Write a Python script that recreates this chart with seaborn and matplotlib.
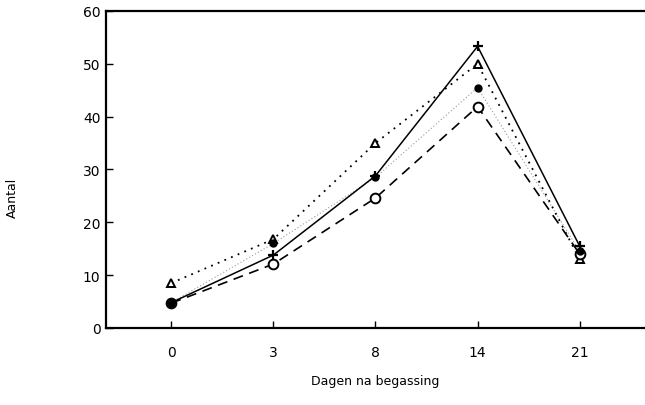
import matplotlib
matplotlib.use("Agg")
import matplotlib.pyplot as plt
import seaborn as sns
import numpy as np

days = ["0", "3", "8", "14", "21"]
plus_solid = [4.8, 13.8, 28.8, 53.3, 15.5]
tri_dotted = [8.5, 16.8, 35.0, 50.0, 13.0]
circ_dashed = [4.7, 12.1, 24.6, 41.9, 14.0]
dot_faint = [4.8, 16.0, 28.5, 45.5, 14.5]

sns.set_theme(style="white")
plt.rcParams['font.family'] = ['DejaVu Sans']

fig = plt.figure(figsize=(6.45, 4.06), dpi=100)
ax = fig.add_axes([0.1643, 0.1897, 0.8357, 0.7808])

common = dict(x=days, order=days, ax=ax, errorbar=None)
sns.pointplot(y=dot_faint, color="#9a9a9a", linestyle=(0, (1, 2)), linewidth=0.8,
              marker="o", markersize=0, **common)
sns.pointplot(y=tri_dotted, color="black", linestyle=(0, (1, 3)), linewidth=1.3,
              marker="^", markersize=6, markerfacecolor="white", markeredgewidth=1.4, **common)
sns.pointplot(y=circ_dashed, color="black", linestyle=(0, (6, 4)), linewidth=1.2,
              marker="o", markersize=7, markerfacecolor="white", markeredgewidth=1.4, **common)
sns.pointplot(y=plus_solid, color="black", linestyle="-", linewidth=1.1,
              marker="+", markersize=7, markeredgewidth=1.6, **common)
# filled dots of faint series drawn on top
ax.plot(range(len(days)), dot_faint, linestyle="none", marker="o", color="black", markersize=5)

ax.set_xlim(-0.64, 4.64)
ax.set_ylim(0, 60)
ax.set_yticks(np.arange(0, 61, 10))
ax.set_xticks(range(len(days)))
ax.set_xticklabels(days)
ax.tick_params(direction="in", length=5, width=1, colors="black", labelsize=10,
               left=True, bottom=True)
ax.tick_params(axis="y", pad=4)
ax.tick_params(axis="x", pad=12)
for s in ["left", "bottom", "top"]:
    ax.spines[s].set_color("black")
    ax.spines[s].set_linewidth(1.6)
ax.spines["right"].set_visible(False)

ax.set_xlabel("Dagen na begassing", fontsize=9, labelpad=11, color="black")
ax.set_ylabel("Aantal", fontsize=9, color="black")
ax.yaxis.set_label_coords(-0.161, 0.413)

fig.savefig("out.png", dpi=100)
